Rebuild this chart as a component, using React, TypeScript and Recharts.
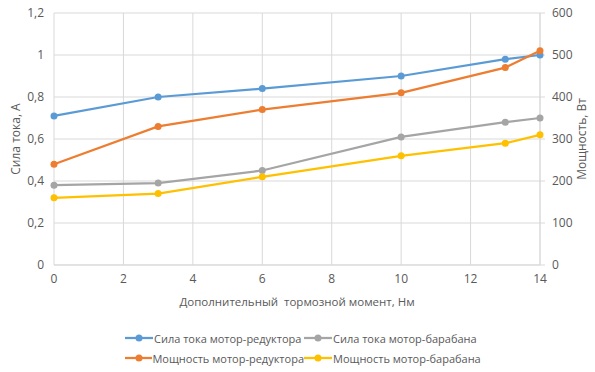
import { LineChart, Line, XAxis, YAxis, CartesianGrid, Legend } from 'recharts';

// дополнительный тормозной момент, Нм
const torque = [0, 3, 6, 10, 13, 14];
// сила тока, A
const currentGear = [0.71, 0.8, 0.84, 0.9, 0.98, 1.0];
const currentDrum = [0.38, 0.39, 0.45, 0.61, 0.68, 0.7];
// мощность, Вт
const powerGear = [240, 330, 370, 410, 470, 510];
const powerDrum = [160, 170, 210, 260, 290, 310];

const xTicks = [0, 2, 4, 6, 8, 10, 12, 14];
const leftTicks = [0, 0.2, 0.4, 0.6, 0.8, 1, 1.2];
const rightTicks = [0, 100, 200, 300, 400, 500, 600];

const seriesNames = [
    'Сила тока мотор-редуктора',
    'Сила тока мотор-барабана',
    'Мощность мотор-редуктора',
    'Мощность мотор-барабана',
];

const data = torque.map((x, i) => ({
    x,
    currentGear: currentGear[i],
    currentDrum: currentDrum[i],
    powerGear: powerGear[i],
    powerDrum: powerDrum[i],
}));

const FONT = '"Open Sans", sans-serif';
const TEXT = '#595959';
const GRID = '#d9d9d9';

const series = [
    { key: 'currentGear', name: seriesNames[0], color: '#5b9bd5', axis: 'left' },
    { key: 'currentDrum', name: seriesNames[1], color: '#a5a5a5', axis: 'left' },
    { key: 'powerGear', name: seriesNames[2], color: '#ed7d31', axis: 'right' },
    { key: 'powerDrum', name: seriesNames[3], color: '#ffc000', axis: 'right' },
];

const comma = (v: number) => String(v).replace('.', ',');

const VLabel = ({ viewBox, value, dx }: any) => {
    const cx = viewBox.x + dx;
    const cy = viewBox.y + viewBox.height / 2;
    return (
        <text
            x={cx}
            y={cy}
            transform={`rotate(-90, ${cx}, ${cy})`}
            textAnchor="middle"
            dominantBaseline="central"
            fill={TEXT}
            fontSize={12}
            fontFamily={FONT}
        >
            {value}
        </text>
    );
};

const LegendItem = ({ name, color }: { name: string; color: string }) => (
    <div style={{ display: 'flex', alignItems: 'center', width: 179 }}>
        <svg width={29} height={10}>
            <line x1={0} y1={5} x2={28} y2={5} stroke={color} strokeWidth={2.25} />
            <circle cx={14} cy={5} r={3.5} fill={color} />
        </svg>
        <span style={{ whiteSpace: 'nowrap' }}>{name}</span>
    </div>
);

const CustomLegend = () => (
    <div style={{ fontFamily: FONT, fontSize: 11, color: TEXT, paddingLeft: 125, paddingTop: 18 }}>
        <div style={{ display: 'flex', height: 20 }}>
            <LegendItem name={series[0].name} color={series[0].color} />
            <LegendItem name={series[1].name} color={series[1].color} />
        </div>
        <div style={{ display: 'flex', height: 20 }}>
            <LegendItem name={series[2].name} color={series[2].color} />
            <LegendItem name={series[3].name} color={series[3].color} />
        </div>
    </div>
);

export default function App() {
    document.body.style.margin = '0';
    const tick = { fill: TEXT, fontSize: 12, fontFamily: FONT };
    return (
        <div style={{ width: 595, height: 372, background: '#fff' }}>
            <LineChart width={595} height={372} data={data} margin={{ top: 13, right: 0, left: 0, bottom: 0 }}>
                <CartesianGrid stroke={GRID} yAxisId="left" />
                <XAxis
                    dataKey="x"
                    type="number"
                    domain={[0, 14]}
                    ticks={xTicks}
                    height={45}
                    tick={tick}
                    tickLine={false}
                    tickMargin={3}
                    axisLine={{ stroke: GRID }}
                    label={{
                        value: 'Дополнительный\u00A0 тормозной момент, Нм',
                        position: 'insideBottom',
                        offset: 4,
                        fill: TEXT,
                        fontSize: 11.5,
                        fontFamily: FONT,
                    }}
                />
                <YAxis
                    yAxisId="left"
                    width={54}
                    domain={[0, 1.2]}
                    ticks={leftTicks}
                    tick={tick}
                    tickFormatter={comma}
                    tickLine={false}
                    axisLine={false}
                    tickMargin={4}
                    label={<VLabel value="Сила тока, A" dx={15} />}
                />
                <YAxis
                    yAxisId="right"
                    orientation="right"
                    width={55}
                    domain={[0, 600]}
                    ticks={rightTicks}
                    tick={tick}
                    tickLine={{ stroke: GRID }}
                    tickSize={5}
                    tickMargin={7}
                    axisLine={{ stroke: GRID }}
                    label={<VLabel value="Мощность, Вт" dx={41} />}
                />
                <Legend verticalAlign="bottom" height={62} content={<CustomLegend />} />
                {series.map((s) => (
                    <Line
                        key={s.key}
                        yAxisId={s.axis}
                        dataKey={s.key}
                        name={s.name}
                        stroke={s.color}
                        strokeWidth={2.25}
                        dot={{ r: 3.5, fill: s.color, stroke: s.color, strokeWidth: 0 }}
                        activeDot={false}
                        isAnimationActive={false}
                    />
                ))}
            </LineChart>
        </div>
    );
}
